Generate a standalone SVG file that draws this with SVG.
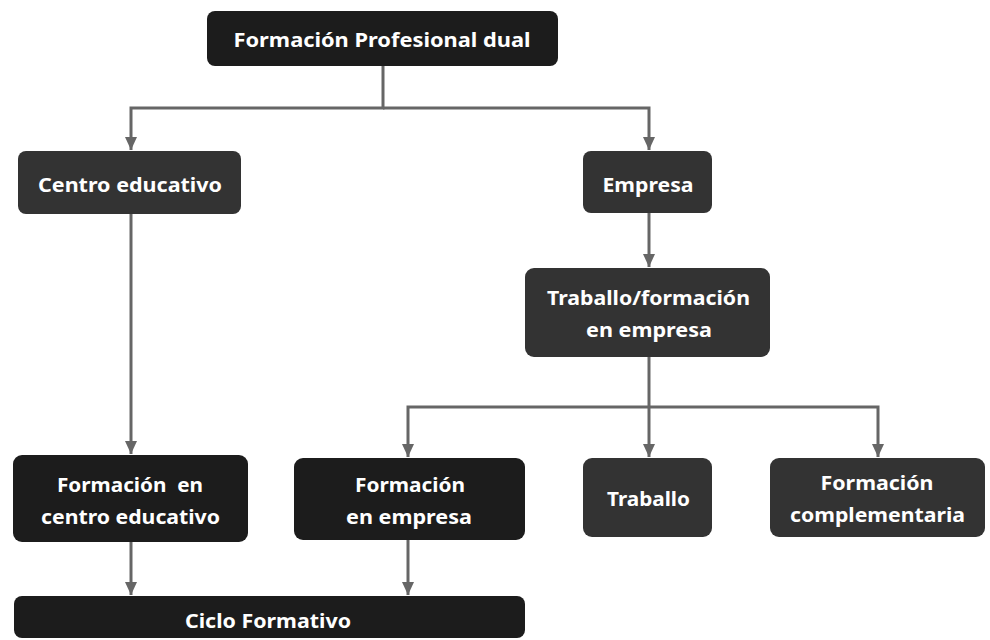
<svg xmlns="http://www.w3.org/2000/svg" width="990" height="640" viewBox="0 0 990 640">
<defs>
<style>
.n1{fill:#1c1c1c;}
.n2{fill:#333333;}
.t{fill:#ffffff;font-family:"Noto Sans","Open Sans","Liberation Sans",sans-serif;font-weight:bold;font-size:20px;text-anchor:middle;}
.c{fill:none;stroke:#666666;stroke-width:3;}
</style>
<marker id="ah" markerUnits="userSpaceOnUse" markerWidth="14" markerHeight="14" viewBox="0 0 14 14" refX="13" refY="7" orient="auto">
<path d="M0,1 L13,7 L0,13 Z" fill="#666666"/>
</marker>
</defs>
<rect width="990" height="640" fill="#ffffff"/>
<g id="connectors">
<path class="c" d="M383,66 V108 H131 V150" marker-end="url(#ah)"/>
<path class="c" d="M383,108 H649 V150" marker-end="url(#ah)"/>
<path class="c" d="M649,213 V267" marker-end="url(#ah)"/>
<path class="c" d="M649,357 V457" marker-end="url(#ah)"/>
<path class="c" d="M649,407 H408 V457" marker-end="url(#ah)"/>
<path class="c" d="M649,407 H878 V457" marker-end="url(#ah)"/>
<path class="c" d="M131,214 V454" marker-end="url(#ah)"/>
<path class="c" d="M131,542 V595" marker-end="url(#ah)"/>
<path class="c" d="M408,540 V595" marker-end="url(#ah)"/>
</g>
<g id="fp-dual">
<rect class="n1" x="207" y="11" width="351" height="55" rx="8"/>
<text class="t" x="382" y="47" textLength="297" lengthAdjust="spacingAndGlyphs">Formación Profesional dual</text>
</g>
<g id="centro-educativo">
<rect class="n2" x="18" y="151" width="223" height="63" rx="8"/>
<text class="t" x="130" y="192" textLength="184" lengthAdjust="spacingAndGlyphs">Centro educativo</text>
</g>
<g id="empresa">
<rect class="n2" x="583" y="151" width="129" height="62" rx="8"/>
<text class="t" x="648" y="192" textLength="91" lengthAdjust="spacingAndGlyphs">Empresa</text>
</g>
<g id="traballo-formacion">
<rect class="n2" x="525" y="268" width="245" height="89" rx="9"/>
<text class="t" x="648.5" y="305" textLength="203" lengthAdjust="spacingAndGlyphs">Traballo/formación</text>
<text class="t" x="649" y="337" textLength="126" lengthAdjust="spacingAndGlyphs">en empresa</text>
</g>
<g id="formacion-centro">
<rect class="n1" x="13" y="455" width="235" height="87" rx="9"/>
<text class="t" x="130" y="492" textLength="146" lengthAdjust="spacingAndGlyphs" xml:space="preserve">Formación  en</text>
<text class="t" x="130.5" y="524" textLength="179" lengthAdjust="spacingAndGlyphs">centro educativo</text>
</g>
<g id="formacion-empresa">
<rect class="n1" x="294" y="458" width="231" height="82" rx="9"/>
<text class="t" x="410" y="492" textLength="110" lengthAdjust="spacingAndGlyphs">Formación</text>
<text class="t" x="409" y="524" textLength="126" lengthAdjust="spacingAndGlyphs">en empresa</text>
</g>
<g id="traballo">
<rect class="n2" x="583" y="458" width="129" height="79" rx="9"/>
<text class="t" x="648.5" y="506" textLength="83" lengthAdjust="spacingAndGlyphs">Traballo</text>
</g>
<g id="formacion-complementaria">
<rect class="n2" x="770" y="458" width="215" height="79" rx="9"/>
<text class="t" x="877" y="490" textLength="113" lengthAdjust="spacingAndGlyphs">Formación</text>
<text class="t" x="877.5" y="522" textLength="175" lengthAdjust="spacingAndGlyphs">complementaria</text>
</g>
<g id="ciclo-formativo">
<rect class="n1" x="14" y="596" width="511" height="42" rx="8"/>
<text class="t" x="268" y="628" textLength="166" lengthAdjust="spacingAndGlyphs">Ciclo Formativo</text>
</g>
</svg>
